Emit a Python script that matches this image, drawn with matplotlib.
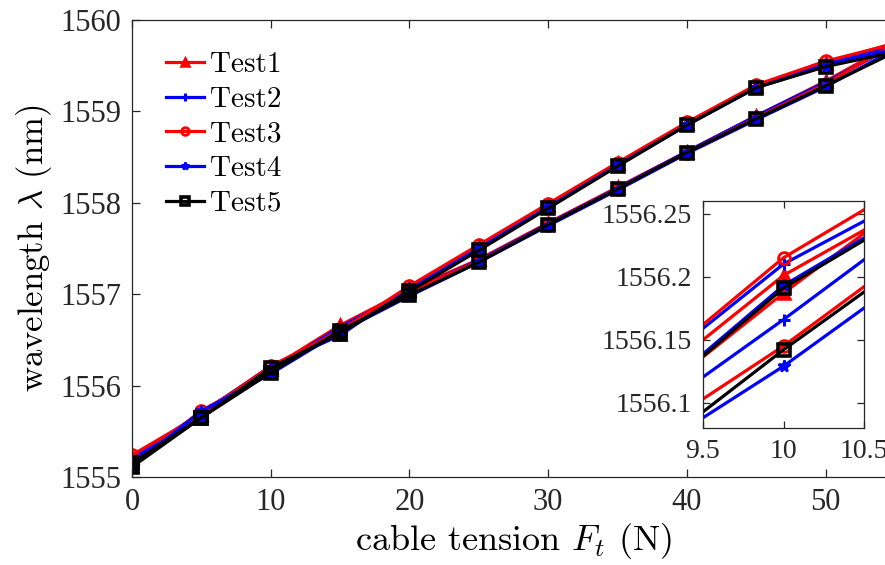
import matplotlib
matplotlib.use("Agg")
import matplotlib.pyplot as plt
import numpy as np

# ---------------- data ----------------
force = [0, 5, 10, 15, 20, 25, 30, 35, 40, 45, 50, 55]

test1_load   = [1555.12, 1555.68, 1556.187, 1556.66, 1557.05, 1557.38, 1557.78, 1558.17, 1558.56, 1558.95, 1559.33, 1559.75]
test1_unload = [1555.22, 1555.69, 1556.201, 1556.56, 1557.08, 1557.53, 1557.98, 1558.43, 1558.87, 1559.28, 1559.53, 1559.75]
test2_load   = [1555.13, 1555.71, 1556.166, 1556.64, 1557.03, 1557.37, 1557.77, 1558.16, 1558.56, 1558.95, 1559.32, 1559.72]
test2_unload = [1555.21, 1555.70, 1556.210, 1556.55, 1557.07, 1557.52, 1557.97, 1558.42, 1558.86, 1559.28, 1559.52, 1559.72]
test3_load   = [1555.14, 1555.725, 1556.145, 1556.615, 1557.03, 1557.36, 1557.76, 1558.15, 1558.55, 1558.93, 1559.30, 1559.74]
test3_unload = [1555.24, 1555.685, 1556.215, 1556.595, 1557.09, 1557.54, 1557.99, 1558.44, 1558.88, 1559.29, 1559.55, 1559.74]
test4_load   = [1555.12, 1555.72, 1556.129, 1556.59, 1556.98, 1557.35, 1557.75, 1558.14, 1558.54, 1558.91, 1559.27, 1559.68]
test4_unload = [1555.18, 1555.65, 1556.193, 1556.57, 1557.04, 1557.50, 1557.95, 1558.41, 1558.85, 1559.26, 1559.50, 1559.68]
test5_load   = [1555.11, 1555.65, 1556.142, 1556.60, 1556.99, 1557.35, 1557.76, 1558.15, 1558.55, 1558.92, 1559.28, 1559.65]
test5_unload = [1555.15, 1555.65, 1556.191, 1556.57, 1557.03, 1557.48, 1557.94, 1558.40, 1558.85, 1559.26, 1559.49, 1559.65]

labels = ["Test1", "Test2", "Test3", "Test4", "Test5"]
loads = [test1_load, test2_load, test3_load, test4_load, test5_load]
unloads = [test1_unload, test2_unload, test3_unload, test4_unload, test5_unload]

main_xticks = [0, 10, 20, 30, 40, 50]
main_yticks = [1555, 1556, 1557, 1558, 1559, 1560]
inset_xticks = [9.5, 10, 10.5]
inset_xticklabels = ["9.5", "10", "10.5"]
inset_yticks = [1556.1, 1556.15, 1556.2, 1556.25]
inset_yticklabels = ["1556.1", "1556.15", "1556.2", "1556.25"]

# ---------------- styles ----------------
styles = [
    dict(color="#ff0000", marker="^", mfc="#ff0000", mec="#ff0000", mew=1.8),
    dict(color="#0000ff", marker="+", mfc="#0000ff", mec="#0000ff", mew=2.2),
    dict(color="#ff0000", marker="o", mfc="none", mec="#ff0000", mew=2.0),
    dict(color="#0000ff", marker="*", mfc="#0000ff", mec="#0000ff", mew=1.8),
    dict(color="#000000", marker="s", mfc="none", mec="#000000", mew=2.6),
]

plt.rcParams["mathtext.fontset"] = "cm"
plt.rcParams["axes.unicode_minus"] = False
TICKFONT = "Liberation Serif"
LABELFONT = "cmr10"
spine_col = "#262626"

fig = plt.figure(figsize=(8.85, 5.65), dpi=100)
W, H = 885, 565

def fig_rect(l, t, r, b):
    return [l / W, (H - b) / H, (r - l) / W, (b - t) / H]

ax = fig.add_axes(fig_rect(132, 20, 895, 477))

def draw(axx, ms):
    handles = []
    for lab, ld, ul, st in zip(labels, loads, unloads, styles):
        xs = list(force) + list(force[::-1][1:])
        ys = list(ld) + list(ul[::-1][1:])
        h, = axx.plot(xs, ys, color=st["color"], lw=2.3, marker=st["marker"],
                      ms=ms, mfc=st["mfc"], mec=st["mec"], mew=st["mew"], label=lab)
        handles.append(h)
    return handles

handles = draw(ax, 8.5)
ax.set_xlim(0, 55)
ax.set_ylim(1555, 1560)
ax.set_xticks(main_xticks)
ax.set_yticks(main_yticks)
ax.tick_params(direction="in", length=6, width=0.9, top=True, right=True,
               colors=spine_col, labelcolor="#262626", labelsize=22, pad=8)
for lab in ax.get_xticklabels() + ax.get_yticklabels():
    lab.set_fontfamily(TICKFONT)
for s in ax.spines.values():
    s.set_color(spine_col)
    s.set_linewidth(0.9)

ax.set_xlabel(r"cable tension $F_t$ (N)", fontfamily=LABELFONT, fontsize=26, labelpad=3)
ax.set_ylabel(r"wavelength $\lambda$ (nm)", fontfamily=LABELFONT, fontsize=25, labelpad=4)

leg = ax.legend(handles=handles, loc="upper left", bbox_to_anchor=(0.045, 0.93),
                frameon=False, borderpad=0, borderaxespad=0, handlelength=1.3,
                handletextpad=0.2, labelspacing=0.28, markerscale=0.65,
                prop={"family": LABELFONT, "size": 21})

# ---------------- inset ----------------
axi = fig.add_axes(fig_rect(703, 201, 864, 428))
draw(axi, 8.5)
axi.set_xlim(9.5, 10.5)
axi.set_ylim(1556.08, 1556.26)
axi.set_xticks(inset_xticks)
axi.set_xticklabels(inset_xticklabels)
axi.set_yticks(inset_yticks)
axi.set_yticklabels(inset_yticklabels)
axi.tick_params(direction="in", length=5, width=0.9, top=True, right=True,
                colors=spine_col, labelcolor="#262626", labelsize=20, pad=8)
for lab in axi.get_xticklabels() + axi.get_yticklabels():
    lab.set_fontfamily(TICKFONT)
for s in axi.spines.values():
    s.set_color(spine_col)
    s.set_linewidth(0.9)

fig.savefig("out.png", dpi=100)
